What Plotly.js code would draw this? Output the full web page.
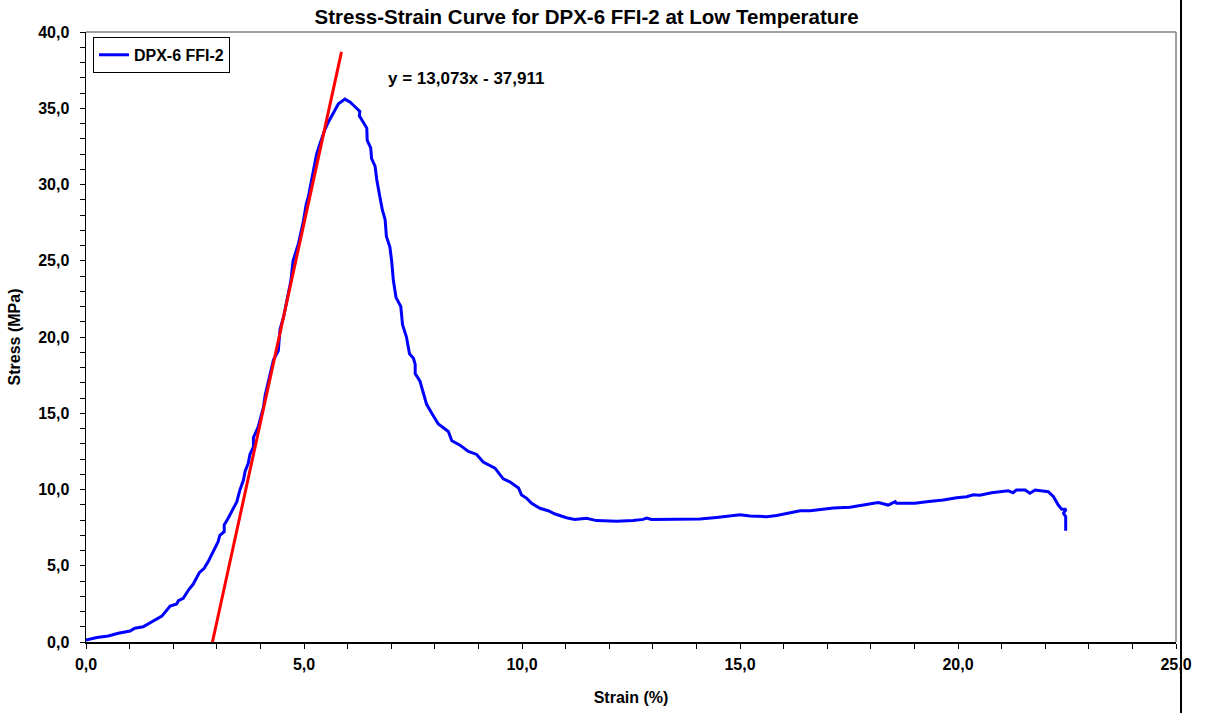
<!DOCTYPE html>
<html>
<head>
<meta charset="utf-8">
<script src="https://cdn.plot.ly/plotly-3.0.1.min.js"></script>
<style>html,body{margin:0;padding:0;background:#fff;}#chart{width:1207px;height:713px;}</style>
</head>
<body>
<div id="chart"></div>
<script>
// Measured curve: DPX-6 FFI-2
var strain = [0.00,0.25,0.51,0.74,1.01,1.12,1.31,1.51,1.74,1.93,2.08,2.12,2.23,2.35,2.46,2.60,2.71,2.81,3.03,3.07,3.17,3.17,3.26,3.46,3.53,3.61,3.65,3.72,3.76,3.84,3.84,3.95,4.03,4.07,4.11,4.18,4.26,4.30,4.41,4.45,4.53,4.60,4.70,4.75,4.87,4.98,5.05,5.10,5.18,5.25,5.29,5.37,5.48,5.56,5.64,5.71,5.79,5.94,6.06,6.17,6.28,6.27,6.36,6.44,6.45,6.53,6.55,6.63,6.67,6.73,6.74,6.80,6.86,6.89,6.97,7.01,7.05,7.11,7.22,7.26,7.35,7.42,7.51,7.55,7.55,7.66,7.74,7.81,7.93,8.08,8.31,8.39,8.58,8.77,8.96,9.11,9.38,9.57,9.72,9.92,9.99,10.11,10.22,10.41,10.60,10.76,11.02,11.21,11.48,11.71,12.17,12.55,12.78,12.86,12.97,13.32,14.08,14.46,14.77,15.00,15.23,15.61,15.84,16.15,16.38,16.61,16.91,17.14,17.52,17.91,18.17,18.40,18.56,18.59,19.01,19.28,19.66,19.97,20.20,20.35,20.50,20.77,21.15,21.26,21.34,21.54,21.65,21.77,22.07,22.19,22.30,22.38,22.48,22.42,22.47,22.47];
var stress = [0.13,0.30,0.39,0.57,0.72,0.90,1.00,1.33,1.70,2.36,2.49,2.71,2.86,3.41,3.80,4.55,4.83,5.31,6.58,7.00,7.23,7.67,8.11,9.20,9.97,10.6,11.2,11.7,12.3,12.8,13.4,14.1,14.9,15.4,16.2,17.0,17.9,18.5,19.1,20.5,21.3,22.3,23.7,25.0,26.1,27.5,28.7,29.2,30.3,31.4,32.0,32.7,33.6,34.1,34.5,34.9,35.3,35.6,35.4,35.1,34.8,34.5,34.1,33.7,32.9,32.4,31.7,31.2,30.3,29.5,29.2,28.3,27.7,26.6,25.9,25.0,23.7,22.6,22.0,20.8,20.0,18.9,18.6,18.2,17.6,17.1,16.3,15.6,15.0,14.3,13.8,13.2,12.9,12.5,12.3,11.8,11.4,10.7,10.5,10.1,9.64,9.42,9.09,8.77,8.61,8.39,8.15,8.04,8.11,7.96,7.91,7.96,8.04,8.13,8.04,8.06,8.06,8.17,8.26,8.35,8.26,8.22,8.29,8.48,8.61,8.61,8.74,8.79,8.83,9.03,9.14,8.98,9.20,9.10,9.10,9.20,9.31,9.46,9.53,9.66,9.62,9.79,9.92,9.79,9.97,9.97,9.75,9.97,9.86,9.53,8.98,8.70,8.70,8.44,8.22,7.30];

// Linear trendline y = 13,073x - 37,911
var fitSlope = 13.073;
var fitIntercept = -37.911;
var fitStrain = [2.9, 5.86];
var fitStress = fitStrain.map(function (x) { return fitSlope * x + fitIntercept; });

var seriesName = 'DPX-6 FFI-2';
var chartTitle = 'Stress-Strain Curve for DPX-6 FFI-2 at Low Temperature';
var xTitle = 'Strain (%)';
var yTitle = 'Stress (MPa)';
var eqText = 'y = 13,073x - 37,911';

var F = 'Liberation Sans, Arial, sans-serif';

var traces = [
  {x: strain, y: stress, type: 'scatter', mode: 'lines', name: seriesName,
   line: {color: '#0000FF', width: 3}, showlegend: true},
  {x: fitStrain, y: fitStress, type: 'scatter', mode: 'lines', name: 'fit',
   line: {color: '#FF0000', width: 3}, showlegend: false}
];

var layout = {
  width: 1207, height: 713,
  margin: {l: 86, r: 31, t: 32, b: 71, pad: 0},
  paper_bgcolor: '#FFFFFF', plot_bgcolor: '#FFFFFF',
  separators: ',.',
  title: {text: chartTitle, font: {family: F, size: 20.5, color: '#000', weight: 'bold'},
          x: 0.486, xanchor: 'center', y: 0.976, yanchor: 'middle'},
  xaxis: {
    range: [0, 25], dtick: 5, tick0: 0, tickformat: '.1f',
    showgrid: false, zeroline: false, showline: true, linecolor: '#000', linewidth: 1.5,
    ticks: 'outside', ticklen: 5, tickwidth: 1, tickcolor: '#000',
    ticklabelstandoff: 2,
    minor: {dtick: 1, ticks: 'outside', ticklen: 5, tickcolor: '#000', showgrid: false},
    tickfont: {family: F, size: 16, color: '#000', weight: 'bold'},
    title: {text: xTitle, font: {family: F, size: 16, color: '#000', weight: 'bold'}, standoff: 20},
    fixedrange: true
  },
  yaxis: {
    range: [0, 40], dtick: 5, tick0: 0, tickformat: '.1f',
    showgrid: false, zeroline: false, showline: true, linecolor: '#000', linewidth: 1.5,
    ticks: 'outside', ticklen: 5, tickwidth: 1, tickcolor: '#000',
    ticklabelstandoff: 7,
    minor: {dtick: 1, ticks: 'outside', ticklen: 5, tickcolor: '#000', showgrid: false},
    tickfont: {family: F, size: 16, color: '#000', weight: 'bold'},
    title: {text: yTitle, font: {family: F, size: 16, color: '#000', weight: 'bold'}, standoff: 13},
    fixedrange: true
  },
  legend: {
    x: 0.0064, y: 0.992, xanchor: 'left', yanchor: 'top',
    bgcolor: '#FFFFFF', bordercolor: '#000', borderwidth: 1,
    font: {family: F, size: 16, color: '#000', weight: 'bold'},
    itemwidth: 30, tracegroupgap: 0
  },
  annotations: [
    {text: eqText, xref: 'paper', yref: 'paper', x: 0.275, y: 0.923,
     xanchor: 'left', yanchor: 'middle', showarrow: false,
     font: {family: F, size: 17, color: '#000', weight: 'bold'}}
  ],
  shapes: [
    {type: 'line', xref: 'paper', yref: 'paper', x0: 0, x1: 1, y0: 1, y1: 1,
     line: {color: '#808080', width: 1.5}, layer: 'below'},
    {type: 'line', xref: 'paper', yref: 'paper', x0: 1, x1: 1, y0: 0, y1: 1,
     line: {color: '#808080', width: 1.5}, layer: 'below'},
    {type: 'line', xref: 'paper', yref: 'paper', x0: 1.0046, x1: 1.0046, y0: -0.12, y1: 1.06,
     line: {color: '#000000', width: 2}, layer: 'above'}
  ]
};

Plotly.newPlot('chart', traces, layout, {displayModeBar: false, staticPlot: true});
</script>
</body>
</html>
